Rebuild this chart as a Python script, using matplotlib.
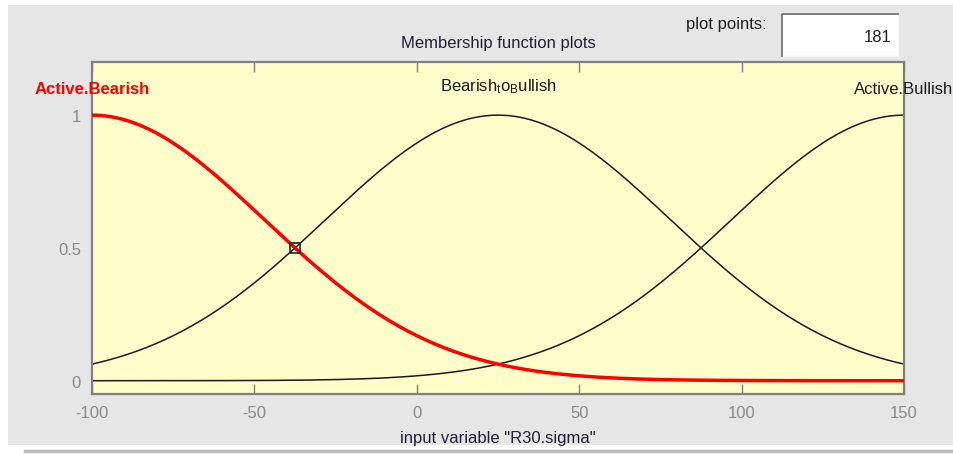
import numpy as np
import matplotlib
matplotlib.use("Agg")
from matplotlib import pyplot as plt
from matplotlib.patches import Rectangle
from matplotlib.lines import Line2D

plt.rcParams['font.family'] = ['Liberation Sans', 'DejaVu Sans']
plt.rcParams['mathtext.fontset'] = 'custom'
plt.rcParams['mathtext.rm'] = 'Liberation Sans'
plt.rcParams['mathtext.it'] = 'Liberation Sans'
plt.rcParams['axes.unicode_minus'] = False

# input variable range and gaussian membership functions (center, sigma)
x_range = [-100, 150]
n_points = 181
mf_names = ['Active.Bearish', r'Bearish$_\mathrm{t}$o$_\mathrm{B}$ullish', 'Active.Bullish']
mf_centers = [-100, 25, 150]
mf_sigmas = [53.08, 53.08, 53.08]
selected = 0  # highlighted MF (drawn red)

FS = 12
W, H = 954, 456
fig = plt.figure(figsize=(W / 100, H / 100), dpi=100)
fig.patch.set_facecolor('white')

# gray window panel + shadow, kept behind the axes
fig.add_artist(Rectangle((8 / W, (H - 446) / H), 1.0, 440 / H, zorder=-5,
                         transform=fig.transFigure, facecolor='#e6e6e6', edgecolor='none'))
fig.add_artist(Line2D([25 / W, 1], [(H - 452) / H] * 2, transform=fig.transFigure,
                      color='#bdbdbd', lw=2.5, zorder=-5))

ax = fig.add_axes([92 / W, (H - 395) / H, 812 / W, 332 / H])
ax.set_facecolor('#ffffcc')

x = np.linspace(x_range[0], x_range[1], n_points)
for i, (c, s) in enumerate(zip(mf_centers, mf_sigmas)):
    y = np.exp(-(x - c) ** 2 / (2 * s ** 2))
    if i == selected:
        ax.plot(x, y, color='#ff0000', lw=2.5, zorder=3)
        ax.text(c, 1.1, mf_names[i], color='#ff0000', fontsize=FS, fontweight='bold',
                ha='center', va='center', clip_on=False)
        # half-height marker on the selected curve
        xh = c + s * np.sqrt(2 * np.log(2))
        ax.plot([xh], [0.5], marker='s', ms=7, mfc='none', mec='#222222', mew=1.2, zorder=4)
    else:
        ax.plot(x, y, color='#1a1a1a', lw=1.1, zorder=2)
        ax.text(c, 1.1 if i != 1 else 1.11, mf_names[i], color='#1a1a1a', fontsize=FS,
                ha='center', va='center', clip_on=False)

ax.set_xlim(x_range)
ax.set_ylim(-0.05, 1.2)
ax.set_xticks([-100, -50, 0, 50, 100, 150])
ax.set_yticks([0, 0.5, 1])
ax.set_yticklabels(['0', '0.5', '1'])
ax.tick_params(axis='x', direction='in', top=True, length=7, width=1, color='#808080',
               labelcolor='#8a8a8a', labelsize=FS, pad=8)
ax.tick_params(axis='y', length=0, labelcolor='#8a8a8a', labelsize=FS, pad=8)
for sp in ax.spines.values():
    sp.set_color('#808080')
    sp.set_linewidth(1.6)

ax.set_title('Membership function plots', fontsize=FS, color='#202030', pad=11)
ax.set_xlabel('input variable "R30.sigma"', fontsize=FS, color='#202030', labelpad=7)

# plot points field
fig.text(767 / W, (H - 24) / H, 'plot points:', fontsize=FS, color='#202020',
         ha='right', va='center')
fig.add_artist(Rectangle((782 / W, (H - 57) / H), 116 / W, 42 / H, transform=fig.transFigure,
                         facecolor='white', edgecolor='#f4f4f4', lw=1))
fig.add_artist(Line2D([782 / W, 782 / W, 898 / W], [(H - 57) / H, (H - 15) / H, (H - 15) / H],
                      transform=fig.transFigure, color='#6a6a6a', lw=1.2))
fig.text(892 / W, (H - 37) / H, '181', fontsize=FS, color='#202020', ha='right', va='center')

plt.savefig('out.png', dpi=100)
